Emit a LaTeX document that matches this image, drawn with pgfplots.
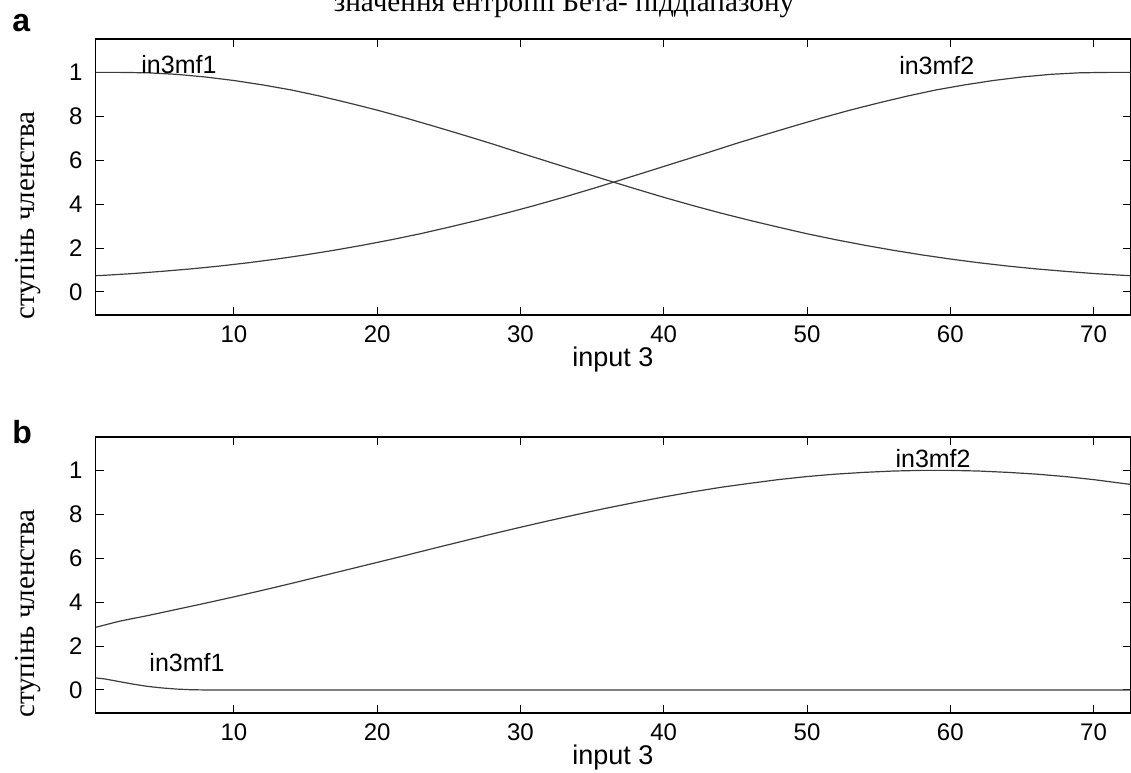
\documentclass[border=0pt]{standalone}
\usepackage{fontspec}
\setmainfont{Liberation Serif}
\setsansfont{Liberation Sans}
\usepackage{pgfplots}
\pgfplotsset{compat=1.18}
\definecolor{curve}{RGB}{60,60,60}
\pgfplotsset{mfaxis/.style={
  scale only axis, width=517.5pt, height=138pt,
  xmin=0.335, xmax=72.58, ymin=-0.105, ymax=1.152,
  xtick={10,20,30,40,50,60,70},
  ytick={0,0.2,0.4,0.6,0.8,1}, yticklabels={0,2,4,6,8,1},
  xtick pos=both, ytick pos=both,
  /pgf/number format/assume math mode=true,
  tick align=inside, major tick length=4pt,
  tick style={black, line width=0.5pt},
  axis line style={line width=0.8pt},
  tick label style={font=\sffamily\fontsize{12}{12}\selectfont},
  xticklabel style={yshift=-2pt},
  yticklabel style={xshift=-3pt},
  xlabel={input 3},
  xlabel style={font=\sffamily\fontsize{13.5}{13.5}\selectfont, at={(axis description cs:0.5,-0.163)}, anchor=center},
  ylabel={ступінь членства},
  ylabel style={font=\fontsize{14.5}{14.5}\selectfont, at={(axis description cs:-0.065,0.36)}, anchor=center},
  clip=true,
}}
\tikzset{mf/.style={curve, line width=0.6pt, mark=none}}
\begin{document}
\begin{tikzpicture}
\begin{axis}[mfaxis, at={(47.75pt,-157.5pt)}, anchor=south west]
\addplot[mf] coordinates {(0.335,1.0) (2,1.0) (4,0.998) (6,0.991) (8,0.979) (10,0.963) (12,0.943) (14,0.92) (16,0.892) (18,0.861) (20,0.828) (22,0.792) (24,0.754) (26,0.715) (28,0.675) (30,0.633) (32,0.592) (34,0.551) (36,0.51) (38,0.47) (40,0.431) (42,0.394) (44,0.359) (46,0.326) (48,0.295) (50,0.265) (52,0.238) (54,0.213) (56,0.19) (58,0.169) (60,0.15) (62,0.133) (64,0.118) (66,0.105) (68,0.094) (70,0.084) (72,0.076) (72.58,0.074)};
\addplot[mf] coordinates {(0.335,0.074) (1,0.076) (3,0.084) (5,0.094) (7,0.105) (9,0.118) (11,0.133) (13,0.15) (15,0.169) (17,0.19) (19,0.213) (21,0.238) (23,0.265) (25,0.295) (27,0.326) (29,0.359) (31,0.394) (33,0.431) (35,0.47) (37,0.51) (39,0.551) (41,0.592) (43,0.633) (45,0.675) (47,0.715) (49,0.754) (51,0.792) (53,0.828) (55,0.861) (57,0.892) (59,0.92) (61,0.943) (63,0.963) (65,0.979) (67,0.991) (69,0.998) (71,1.0) (72.58,1.0)};
\node[font=\sffamily\fontsize{12.5}{12.5}\selectfont] at (axis cs:6.16,1.036) {in3mf1};
\node[font=\sffamily\fontsize{12.5}{12.5}\selectfont] at (axis cs:59.06,1.032) {in3mf2};
\end{axis}
\begin{axis}[mfaxis, at={(47.75pt,-356.5pt)}, anchor=south west]
\addplot[mf] coordinates {(0.335,0.285) (2,0.313) (4,0.339) (6,0.367) (8,0.395) (10,0.424) (12,0.454) (14,0.485) (16,0.517) (18,0.549) (20,0.581) (22,0.613) (24,0.646) (26,0.678) (28,0.71) (30,0.741) (32,0.771) (34,0.8) (36,0.828) (38,0.854) (40,0.879) (42,0.902) (44,0.923) (46,0.941) (48,0.958) (50,0.972) (52,0.983) (54,0.991) (56,0.997) (58,1.0) (60,1.0) (62,0.997) (64,0.991) (66,0.983) (68,0.972) (70,0.958) (72,0.941) (72.58,0.936)};
\addplot[mf] coordinates {(0.335,0.055) (1,0.05) (2,0.038) (3,0.026) (4,0.016) (5,0.009) (6,0.004) (7,0.001) (8,0) (20,0) (40,0) (60,0) (72.58,0)};
\node[font=\sffamily\fontsize{12.5}{12.5}\selectfont] at (axis cs:58.8,1.053) {in3mf2};
\node[font=\sffamily\fontsize{12.5}{12.5}\selectfont] at (axis cs:6.72,0.124) {in3mf1};
\end{axis}
\node[font=\fontsize{14.6}{14.6}\selectfont, anchor=base] at (282pt,-5.85pt) {значення ентропії Бета- піддіапазону};
\node[font=\sffamily\bfseries\fontsize{16}{16}\selectfont, anchor=base west, inner sep=0pt] at (6pt,-15.5pt) {a};
\node[font=\sffamily\bfseries\fontsize{16}{16}\selectfont, anchor=base west, inner sep=0pt] at (6pt,-221.5pt) {b};
\pgfresetboundingbox
\useasboundingbox (0pt,0pt) rectangle (565.5pt,-386pt);
\end{tikzpicture}
\end{document}
